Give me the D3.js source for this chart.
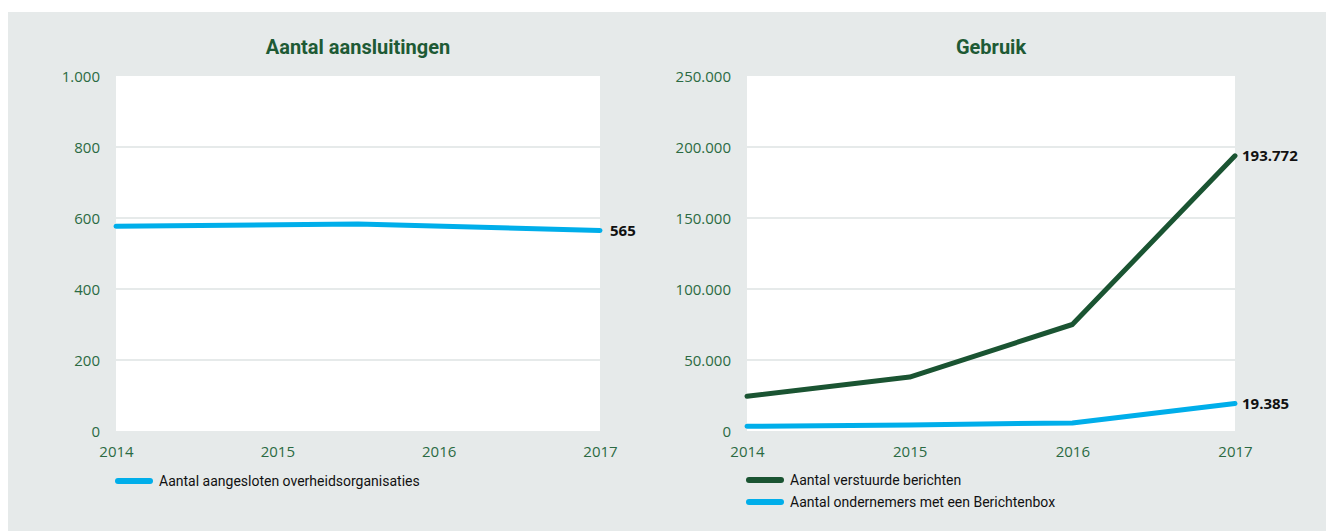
<!DOCTYPE html>
<html>
<head>
<meta charset="utf-8">
<script src="https://cdn.jsdelivr.net/npm/d3@7"></script>
<style>
  html, body { margin: 0; padding: 0; background: #ffffff; }
  svg { display: block; }
  text { font-family: "Roboto", sans-serif; }
</style>
</head>
<body>
<svg id="chart" width="1326" height="531"></svg>
<script>
// ---- data ----
const years = [2014, 2015, 2016, 2017];
const leftTitle = "Aantal aansluitingen";
const rightTitle = "Gebruik";
// left chart: points (bend sits mid-2015)
const leftX = [2014, 2015.5, 2017];
const leftValues = [577, 583, 565];
const leftTicks = [0, 200, 400, 600, 800, 1000];
const leftSeriesName = "Aantal aangesloten overheidsorganisaties";
// right chart
const berichten = [24500, 38000, 75000, 193772];
const ondernemers = [3300, 4300, 5700, 19385];
const rightTicks = [0, 50000, 100000, 150000, 200000, 250000];
const rightSeriesNames = ["Aantal verstuurde berichten", "Aantal ondernemers met een Berichtenbox"];

// ---- styles ----
const C = {
  panel: "#e6eaea",
  grid: "#e6eaea",
  tick: "#2b6a43",
  title: "#1e5a35",
  green: "#1a5432",
  blue: "#00aeea",
  label: "#111111"
};

const nl = d3.formatLocale({ decimal: ",", thousands: ".", grouping: [3], currency: ["€", ""] });
const fmt = nl.format(",d");

const svg = d3.select("#chart");
svg.append("rect").attr("x", 8).attr("y", 12).attr("width", 1318).attr("height", 519).attr("fill", C.panel);

function panel(opts) {
  const x = d3.scaleLinear().domain([2014, 2017]).range(opts.xr);
  const y = d3.scaleLinear().domain([0, opts.max]).range([431, 76]);
  const g = svg.append("g");
  g.append("rect").attr("x", opts.xr[0]).attr("y", 76)
    .attr("width", opts.xr[1] - opts.xr[0]).attr("height", 431 - 76).attr("fill", "#ffffff");
  // gridlines
  g.selectAll("line.grid").data(opts.ticks.filter(t => t > 0 && t < opts.max)).join("line")
    .attr("x1", opts.xr[0]).attr("x2", opts.xr[1])
    .attr("y1", d => y(d)).attr("y2", d => y(d))
    .attr("stroke", C.grid).attr("stroke-width", 2);
  // y axis labels
  const ya = d3.axisLeft(y).tickValues(opts.ticks).tickFormat(fmt).tickSize(0).tickPadding(0);
  const yg = g.append("g").attr("transform", `translate(${opts.xr[0] - 16},0)`).call(ya);
  yg.select(".domain").remove();
  yg.selectAll("text").attr("fill", C.tick).style("font-size", "15px")
    .style("font-family", "'Open Sans', sans-serif").attr("dy", "0.35em");
  // x axis labels
  const xa = d3.axisBottom(x).tickValues(years).tickFormat(d3.format("d")).tickSize(0).tickPadding(0);
  const xg = g.append("g").attr("transform", `translate(0,446)`).call(xa);
  xg.select(".domain").remove();
  xg.selectAll("text").attr("fill", C.tick).style("font-size", "15px")
    .style("font-family", "'Open Sans', sans-serif").attr("dy", "0.71em");
  // title
  g.append("text").attr("x", (opts.xr[0] + opts.xr[1]) / 2).attr("y", 54)
    .attr("text-anchor", "middle").attr("fill", C.title)
    .style("font-size", "20px").style("font-weight", "bold").text(opts.title);
  // lines
  const line = d3.line().x(d => x(d[0])).y(d => y(d[1]));
  opts.series.forEach(s => {
    const pts = s.xs.map((xv, i) => [xv, s.values[i]]);
    g.append("path").datum(pts).attr("d", line).attr("fill", "none")
      .attr("stroke", s.color).attr("stroke-width", 5)
      .attr("stroke-linecap", "round").attr("stroke-linejoin", "round");
    const last = pts[pts.length - 1];
    g.append("text").attr("x", x(last[0]) + opts.labelOffset).attr("y", y(last[1]))
      .attr("dy", "0.35em").attr("fill", C.label)
      .style("font-size", "15px").style("font-weight", "bold")
      .style("font-family", "'Open Sans', sans-serif")
      .text(fmt(last[1]));
  });
  // legend
  opts.series.forEach((s, i) => {
    const ly = opts.legendY + i * 22;
    g.append("line").attr("x1", opts.xr[0] + 2).attr("x2", opts.xr[0] + 34)
      .attr("y1", ly).attr("y2", ly).attr("stroke", s.color)
      .attr("stroke-width", 6).attr("stroke-linecap", "round");
    g.append("text").attr("x", opts.xr[0] + 43).attr("y", ly).attr("dy", "0.35em")
      .attr("fill", "#111").style("font-size", "14px").text(s.name);
  });
}

panel({
  xr: [116, 600], max: 1000, ticks: leftTicks, title: leftTitle, legendY: 481, labelOffset: 10,
  series: [{ xs: leftX, values: leftValues, color: C.blue, name: leftSeriesName }]
});
panel({
  xr: [747, 1235], max: 250000, ticks: rightTicks, title: rightTitle, legendY: 480, labelOffset: 7,
  series: [
    { xs: years, values: berichten, color: C.green, name: rightSeriesNames[0] },
    { xs: years, values: ondernemers, color: C.blue, name: rightSeriesNames[1] }
  ]
});
</script>
</body>
</html>
